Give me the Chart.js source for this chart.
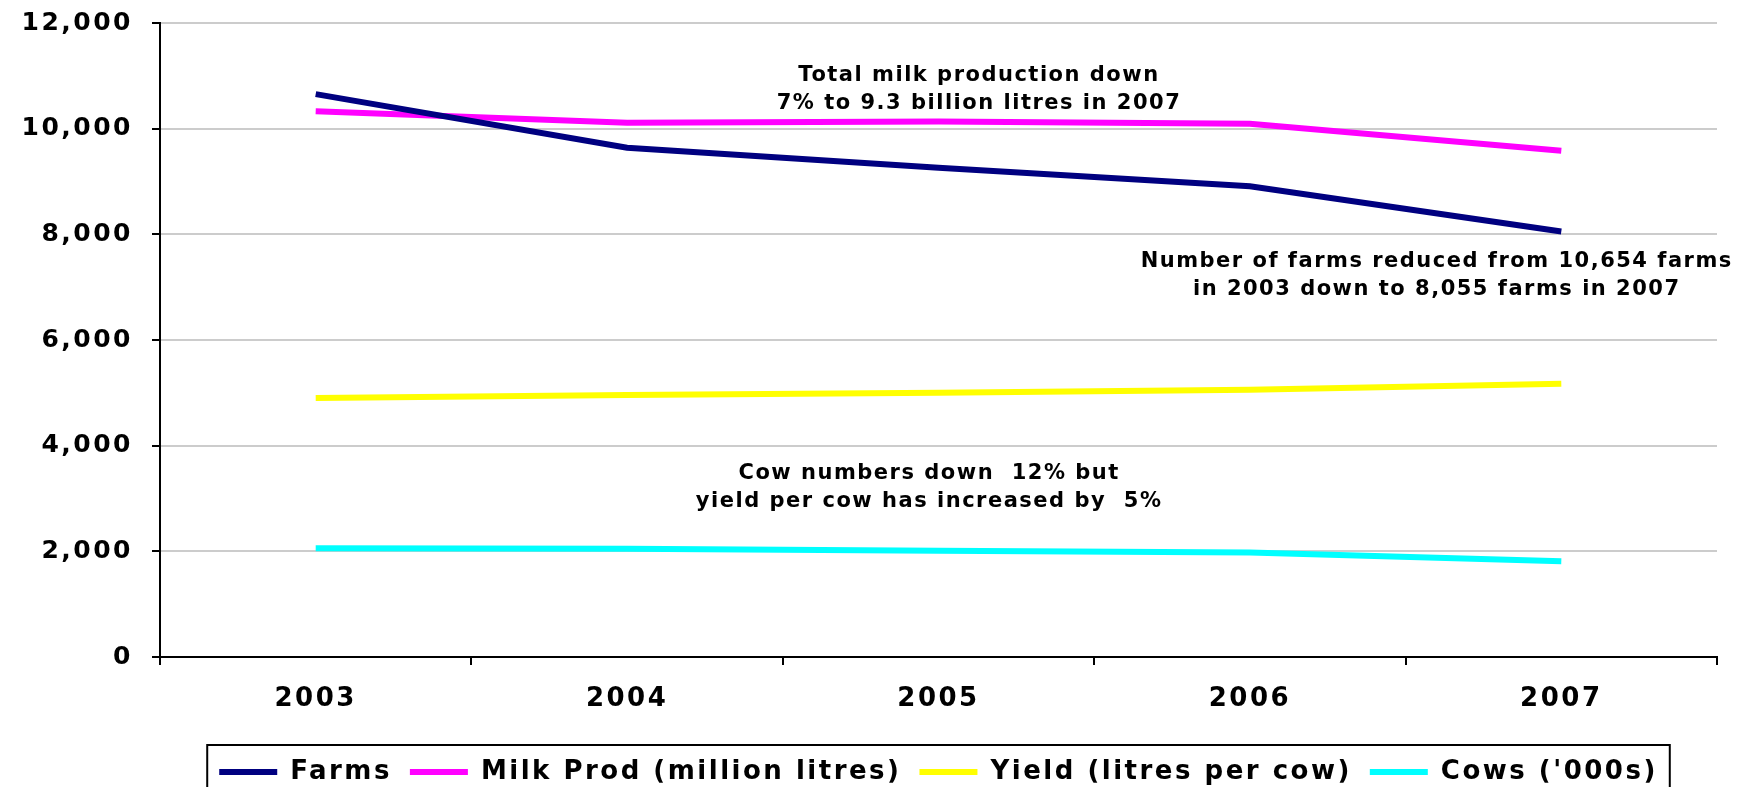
<!DOCTYPE html>
<html><head><meta charset="utf-8">
<script src="https://cdn.jsdelivr.net/npm/chart.js@4.4.0/dist/chart.umd.min.js"></script>
<style>html,body{margin:0;padding:0;background:#fff;}canvas{display:block;}</style>
</head><body>
<canvas id="c" width="1754" height="787"></canvas>
<script>
// ---- data ----
const years = ['2003', '2004', '2005', '2006', '2007'];
const farms = [10654, 9640, 9262, 8910, 8055];
const milkProd = [10330, 10110, 10138, 10095, 9580];
const yieldPerCow = [4900, 4960, 5000, 5060, 5170];
const cows = [2060, 2050, 2010, 1980, 1810];
const yTicks = [0, 2000, 4000, 6000, 8000, 10000, 12000];
const seriesNames = ['Farms', 'Milk Prod (million litres)', 'Yield (litres per cow)', "Cows ('000s)"];
const noteMilk = ['Total milk production down', '7% to 9.3 billion litres in 2007'];
const noteFarms = ['Number of farms reduced from 10,654 farms', 'in 2003 down to 8,055 farms in 2007'];
const noteCows = ['Cow numbers down  12% but', 'yield per cow has increased by  5%'];
// anchor (category index, value) for each note
const noteAnchorsX = [2.13, 3.60, 1.97];
const noteAnchorsY = [11000, 7480, 3480];

const FONT = 'DejaVu Sans';
Chart.defaults.font.family = FONT;
Chart.defaults.font.weight = 'bold';
Chart.defaults.color = '#000';

const LS = '2.5px';
const spacing = {
  id: 'spacing',
  beforeUpdate(chart) { chart.ctx.letterSpacing = LS; },
  beforeLayout(chart) { chart.ctx.letterSpacing = LS; },
  beforeDraw(chart) { chart.ctx.letterSpacing = LS; }
};

const notesPlugin = {
  id: 'notes',
  afterDatasetsDraw(chart) {
    const ctx = chart.ctx;
    const xs = chart.scales.x, ys = chart.scales.y;
    const notes = [noteMilk, noteFarms, noteCows];
    ctx.save();
    ctx.letterSpacing = '1.5px';
    ctx.font = 'bold 21px "' + FONT + '"';
    ctx.fillStyle = '#000';
    ctx.textAlign = 'center';
    ctx.textBaseline = 'middle';
    notes.forEach((lines, i) => {
      const cx = xs.getPixelForValue(noteAnchorsX[i]);
      const cy = ys.getPixelForValue(noteAnchorsY[i]);
      lines.forEach((t, j) => ctx.fillText(t, cx, cy + j * 28));
    });
    ctx.restore();
  }
};

const legendBorder = {
  id: 'legendBorder',
  afterDraw(chart) {
    const hb = chart.legend.legendHitBoxes;
    if (!hb || !hb.length) return;
    const l = Math.min(...hb.map(h => h.left)) - 12;
    const r = Math.max(...hb.map(h => h.left + h.width)) + 12;
    const t = hb[0].top - 14;
    const ctx = chart.ctx;
    ctx.save();
    ctx.strokeStyle = '#000';
    ctx.lineWidth = 2;
    ctx.strokeRect(l, t, r - l, chart.height + 20 - t);
    ctx.restore();
  }
};

const mk = (label, data, color) => ({
  label, data,
  borderColor: color, backgroundColor: color,
  borderWidth: 6, pointRadius: 0, pointHoverRadius: 0, tension: 0, fill: false
});

new Chart(document.getElementById('c'), {
  type: 'line',
  data: {
    labels: years,
    datasets: [
      mk(seriesNames[0], farms, '#000080'),
      mk(seriesNames[1], milkProd, '#ff00ff'),
      mk(seriesNames[2], yieldPerCow, '#ffff00'),
      mk(seriesNames[3], cows, '#00ffff')
    ]
  },
  options: {
    responsive: false,
    animation: false,
    devicePixelRatio: 1,
    layout: { padding: { top: 23, right: 37, left: 0, bottom: -8 } },
    plugins: {
      tooltip: { enabled: false },
      legend: {
        position: 'bottom',
        fullSize: false,
        labels: {
          font: { size: 26, weight: 'bold', family: FONT },
          color: '#000',
          boxWidth: 58,
          boxHeight: 6,
          padding: 18,
          generateLabels(chart) {
            const items = Chart.defaults.plugins.legend.labels.generateLabels(chart);
            items.forEach(it => { it.lineWidth = 0; it.fillStyle = it.strokeStyle; });
            return items;
          }
        }
      }
    },
    scales: {
      x: {
        offset: true,
        grid: { display: true, drawOnChartArea: false, drawTicks: true, tickLength: 8, tickColor: '#000', offset: true, lineWidth: 2 },
        border: { display: true, color: '#000', width: 2 },
        ticks: { font: { size: 26, weight: 'bold', family: FONT }, color: '#000', padding: 19, maxRotation: 0 },
        afterFit(s) { s.height = 84; s.paddingLeft = 0; s.paddingRight = 0; }
      },
      y: {
        min: 0, max: 12000,
        afterBuildTicks(s) { s.ticks = yTicks.map(v => ({ value: v })); },
        grid: { color: '#cccccc', lineWidth: 2, tickLength: 8, tickColor: '#000', drawTicks: true },
        border: { display: true, color: '#000', width: 2 },
        ticks: {
          font: { size: 25, weight: 'bold', family: FONT }, color: '#000', padding: 19,
          callback: v => v.toLocaleString('en-US')
        },
        afterFit(s) { s.width = 160; s.paddingTop = 0; s.paddingBottom = 0; }
      }
    }
  },
  plugins: [spacing, notesPlugin, legendBorder]
});
</script>
</body></html>
